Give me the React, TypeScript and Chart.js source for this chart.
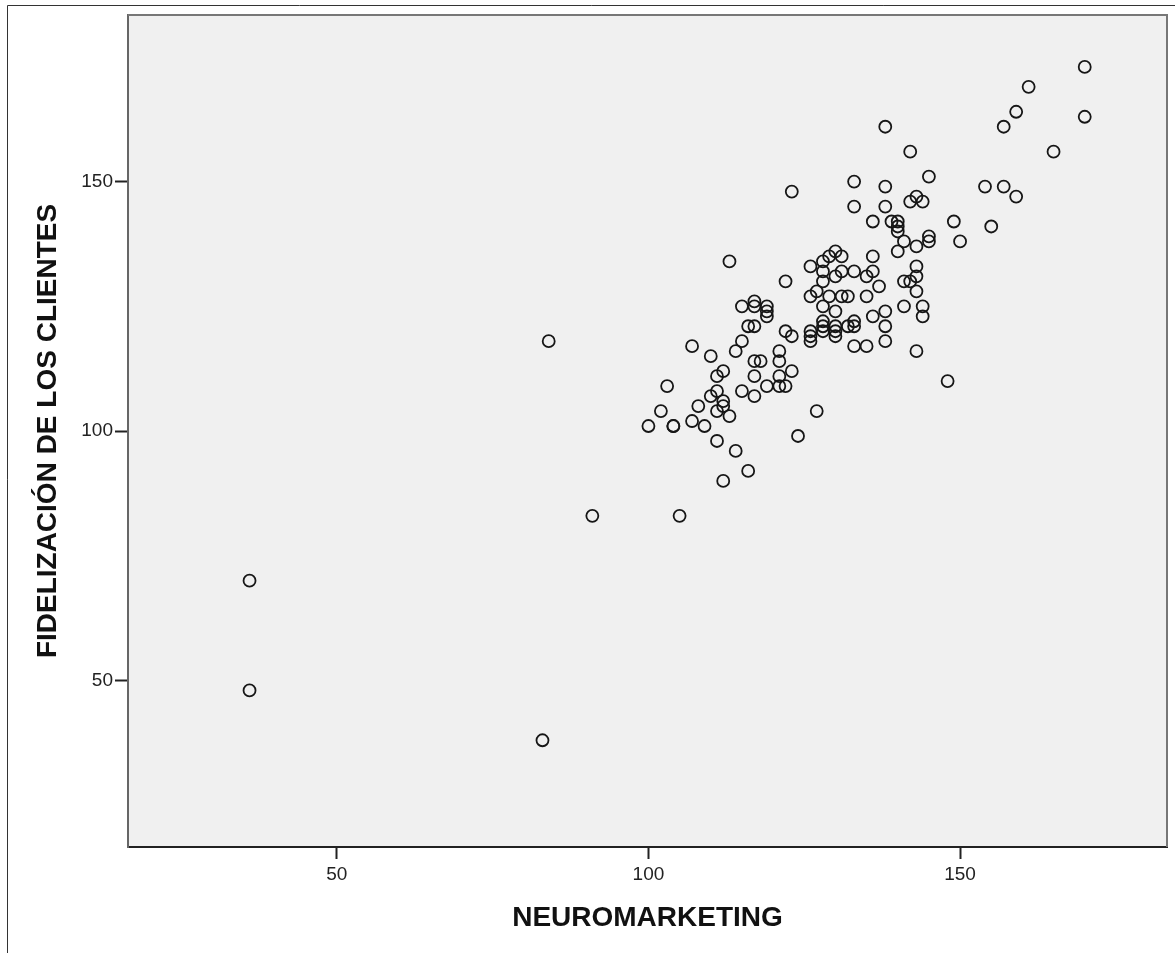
import React, { useEffect, useRef } from "react";
import { Chart, registerables } from "chart.js";

Chart.register(...registerables);

const neuromarketing: number[] = [
  36, 36, 83, 84, 91, 105,
  100, 104, 104, 102, 103, 107, 108, 109, 110, 111, 111, 111, 111, 112, 112, 112, 113, 110, 107, 114, 114, 116, 112, 115,
  115, 115, 117, 117, 119, 119, 119, 116, 117, 117, 118, 117, 117, 119, 121, 121, 121, 121, 122, 122, 123, 123, 124, 127,
  113, 122, 123,
  126, 128, 129, 130, 131, 128, 128, 130, 131, 133, 135, 136, 136, 137, 126, 127, 129, 131, 132, 135, 128, 130, 136, 138,
  138, 138, 128, 128, 128, 126, 126, 126, 130, 130, 130, 132, 133, 133, 133, 135,
  133, 133, 136, 138, 138, 138, 139, 140, 140, 140, 140, 141, 141, 142, 141, 142, 142, 143, 144, 143, 143, 143, 143, 143,
  144, 144, 145, 145, 145, 148,
  149, 150, 154, 155, 157, 157, 159, 159, 161, 165, 170, 170,
];

const fidelizacion: number[] = [
  70, 48, 38, 118, 83, 83,
  101, 101, 101, 104, 109, 102, 105, 101, 107, 104, 108, 111, 98, 112, 106, 105, 103, 115, 117, 116, 96, 92, 90, 118,
  108, 125, 126, 125, 125, 124, 123, 121, 121, 114, 114, 111, 107, 109, 116, 114, 111, 109, 109, 120, 119, 112, 99, 104,
  134, 130, 148,
  133, 134, 135, 136, 135, 132, 130, 131, 132, 132, 131, 132, 135, 129, 127, 128, 127, 127, 127, 127, 125, 124, 123, 124,
  121, 118, 122, 121, 120, 120, 119, 118, 121, 120, 119, 121, 122, 121, 117, 117,
  150, 145, 142, 161, 149, 145, 142, 142, 141, 140, 136, 138, 130, 130, 125, 156, 146, 147, 146, 137, 133, 131, 128, 116,
  125, 123, 151, 139, 138, 110,
  142, 138, 149, 141, 149, 161, 164, 147, 169, 156, 173, 163,
];

const xTickValues: number[] = [50, 100, 150];
const yTickValues: number[] = [50, 100, 150];
const xTitle = "NEUROMARKETING";
const yTitle = "FIDELIZACIÓN DE LOS CLIENTES";

const W = 1175;
const H = 953;

const framePlugin = {
  id: "spssFrame",
  beforeDraw(chart: any) {
    const { ctx, chartArea } = chart;
    ctx.save();
    ctx.fillStyle = "#ffffff";
    ctx.fillRect(0, 0, chart.width, chart.height);
    ctx.strokeStyle = "#333333";
    ctx.lineWidth = 1;
    ctx.beginPath();
    ctx.moveTo(7.5, chart.height);
    ctx.lineTo(7.5, 5.5);
    ctx.lineTo(chart.width, 5.5);
    ctx.stroke();
    ctx.fillStyle = "#f0f0f0";
    ctx.fillRect(chartArea.left, chartArea.top, chartArea.right - chartArea.left, chartArea.bottom - chartArea.top);
    ctx.restore();
  },
  afterDraw(chart: any) {
    const { ctx, chartArea } = chart;
    ctx.save();
    ctx.strokeStyle = "#777777";
    ctx.lineWidth = 2;
    ctx.beginPath();
    ctx.moveTo(chartArea.left, chartArea.top);
    ctx.lineTo(chartArea.right, chartArea.top);
    ctx.lineTo(chartArea.right, chartArea.bottom);
    ctx.stroke();
    ctx.restore();
  },
};

export default function App() {
  const canvasRef = useRef<HTMLCanvasElement | null>(null);

  useEffect(() => {
    const canvas = canvasRef.current;
    if (!canvas) return;
    const data = neuromarketing.map((x, i) => ({ x, y: fidelizacion[i] }));
    const tickFont = { family: "'Liberation Sans', Arial, sans-serif", size: 19 };
    const titleFont = { family: "'Liberation Sans', Arial, sans-serif", size: 28, weight: "bold" as const };
    const chart = new Chart(canvas, {
      type: "scatter",
      data: {
        datasets: [
          {
            data,
            pointStyle: "circle",
            pointRadius: 6,
            pointHoverRadius: 6,
            pointBorderWidth: 1.8,
            pointBackgroundColor: "rgba(0,0,0,0)",
            pointBorderColor: "#161616",
            showLine: false,
          },
        ],
      },
      options: {
        animation: false,
        responsive: false,
        devicePixelRatio: 1,
        layout: { padding: { left: 0, top: 15, right: 8, bottom: 0 } },
        plugins: {
          legend: { display: false },
          tooltip: { enabled: false },
        },
        scales: {
          x: {
            type: "linear",
            min: 16.5,
            max: 183.2,
            afterFit(scale: any) {
              scale.height = 106;
            },
            afterBuildTicks(scale: any) {
              scale.ticks = xTickValues.map((v) => ({ value: v }));
            },
            grid: {
              display: true,
              drawOnChartArea: false,
              drawTicks: true,
              tickLength: 12,
              tickWidth: 2,
              tickColor: "#222222",
            },
            border: { display: true, color: "#222222", width: 2 },
            ticks: {
              color: "#222222",
              font: tickFont,
              padding: 4,
              maxRotation: 0,
              callback: (v: any) => String(v),
            },
            title: {
              display: true,
              text: xTitle,
              color: "#111111",
              font: titleFont,
              padding: { top: 0, bottom: 18 },
            },
          },
          y: {
            type: "linear",
            min: 16.6,
            max: 183.4,
            afterFit(scale: any) {
              scale.width = 128;
            },
            afterBuildTicks(scale: any) {
              scale.ticks = yTickValues.map((v) => ({ value: v }));
            },
            grid: {
              display: true,
              drawOnChartArea: false,
              drawTicks: true,
              tickLength: 13,
              tickWidth: 2,
              tickColor: "#222222",
            },
            border: { display: true, color: "#666666", width: 2 },
            ticks: {
              color: "#222222",
              font: tickFont,
              padding: 2,
              callback: (v: any) => String(v),
            },
            title: {
              display: true,
              text: yTitle,
              color: "#111111",
              font: titleFont,
              padding: { top: 31, bottom: 0 },
            },
          },
        },
      },
      plugins: [framePlugin],
    });
    return () => chart.destroy();
  }, []);

  return (
    <div style={{ position: "absolute", left: 0, top: 0, width: W, height: H, overflow: "hidden", background: "#fff" }}>
      <canvas ref={canvasRef} width={W} height={H} style={{ width: W, height: H, display: "block" }} />
    </div>
  );
}
